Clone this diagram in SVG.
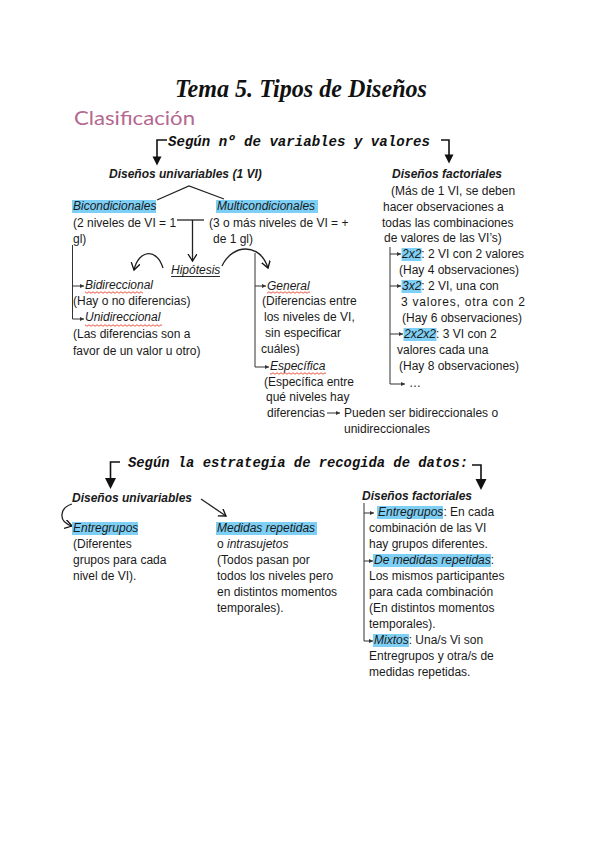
<svg xmlns="http://www.w3.org/2000/svg" width="600" height="848" viewBox="0 0 600 848">
<style>
.t{font-family:"Liberation Sans",Arial,sans-serif;font-size:12px;fill:#1a1a1a}
.i{font-style:italic}
.bi{font-weight:bold;font-style:italic}
.mono{font-family:"Liberation Mono","Courier New",monospace;font-weight:bold;font-style:italic;font-size:14px;fill:#111}
.hl{fill:#7ecff5}
.ln{fill:none;stroke:#222;stroke-width:1.3}
.br{fill:none;stroke:#111;stroke-width:1.6}
.head{fill:#111}
.thin{fill:none;stroke:#333;stroke-width:1}
.wave{fill:url(#wave)}
</style>
<defs>
<marker id="chev" markerUnits="userSpaceOnUse" markerWidth="10" markerHeight="10" refX="7" refY="4.5" orient="auto"><path d="M0,0 L7,4.5 L0,9" fill="none" stroke="#111" stroke-width="1.3"/></marker>
<marker id="sm" markerUnits="userSpaceOnUse" markerWidth="5" markerHeight="5" refX="4" refY="2" orient="auto"><path d="M0,0 L4,2 L0,4 z" fill="#333"/></marker>
<pattern id="wave" patternUnits="userSpaceOnUse" width="4" height="3"><path d="M0,1.5 Q1,0 2,1.5 T4,1.5" fill="none" stroke="#e8412c" stroke-width="0.9"/></pattern>
</defs>
<rect width="600" height="848" fill="#fff"/>

<g id="title">
<text x="175" y="97" font-family="'Liberation Serif','Times New Roman',serif" font-weight="bold" font-style="italic" font-size="25" textLength="252" lengthAdjust="spacingAndGlyphs" fill="#111">Tema 5. Tipos de Diseños</text>
<text x="74" y="125" font-family="Lato,'Open Sans',sans-serif" font-size="20" textLength="121" lengthAdjust="spacingAndGlyphs" fill="#b5688f">Clasificación</text>
</g>

<g id="connectors">
<path class="br" d="M167,140 H157 V158"/>
<polygon class="head" points="152.5,156.5 161.5,156.5 157,165.5"/>
<path class="br" d="M441,140 H449 V156"/>
<polygon class="head" points="444.5,154.5 453.5,154.5 449,163.5"/>
<path class="ln" d="M157,200 L189,186 L224,199"/>
<path class="ln" d="M177,220 H204"/>
<path class="ln" d="M192.5,220 V261" marker-end="url(#chev)"/>
<path class="ln" d="M163,268 C157,248 139,249 134,270" marker-end="url(#chev)"/>
<path class="ln" d="M222,266 C232,244 260,242 268,268" marker-end="url(#chev)"/>
<path class="thin" d="M72.5,245 V319 H84" marker-end="url(#sm)"/>
<path class="thin" d="M72.5,286 H84" marker-end="url(#sm)"/>
<path class="thin" d="M255,253 V367 H269" marker-end="url(#sm)"/>
<path class="thin" d="M255,286 H266" marker-end="url(#sm)"/>
<path class="thin" d="M390,247 V384 H405" marker-end="url(#sm)"/>
<path class="thin" d="M390,254 H401" marker-end="url(#sm)"/>
<path class="thin" d="M390,286 H401" marker-end="url(#sm)"/>
<path class="thin" d="M390,334 H403" marker-end="url(#sm)"/>
<path class="thin" d="M327,413 H340" marker-end="url(#sm)"/>
<path class="br" d="M120,462 H110.5 V480"/>
<polygon class="head" points="105,478 116,478 110.5,489"/>
<path class="br" d="M472,465 H481 V481"/>
<polygon class="head" points="475.5,479 486.5,479 481,490"/>
<path class="ln" d="M201,499 L226,516" marker-end="url(#chev)"/>
<path class="ln" d="M72,504 C59,508 58,522 72,526" marker-end="url(#chev)"/>
<path class="thin" d="M364,503 V641 H373" marker-end="url(#sm)"/>
<path class="thin" d="M364,513 H374" marker-end="url(#sm)"/>
<path class="thin" d="M364,561 H373" marker-end="url(#sm)"/>
</g>

<g id="heading1"><text class="mono" x="168" y="146" textLength="262" lengthAdjust="spacingAndGlyphs">Según nº de variables y valores</text></g>

<g id="univariables1">
<text class="t bi" x="109" y="178">Diseños univariables (1 VI)</text>
</g>

<g id="bicondicionales">
<rect class="hl" x="72" y="200" width="84" height="13"/>
<text class="t i" x="73" y="210">Bicondicionales</text>
<text class="t" x="73" y="227">(2 niveles de VI = 1</text>
<text class="t" x="73" y="243">gl)</text>
</g>

<g id="multicondicionales">
<rect class="hl" x="216" y="200" width="102" height="13"/>
<text class="t i" x="217" y="210">Multicondicionales</text>
<text class="t" x="209" y="227">(3 o más niveles de VI = +</text>
<text class="t" x="213" y="243">de 1 gl)</text>
</g>

<g id="hipotesis">
<text class="t i" x="171" y="274">Hipótesis</text>
<line x1="171" y1="276.5" x2="220" y2="276.5" stroke="#111" stroke-width="0.9"/>
</g>

<g id="bidireccional">
<text class="t i" x="85" y="289">Bidireccional</text>
<rect class="wave" x="85" y="291" width="58" height="3"/>
<text class="t" x="73" y="305">(Hay o no diferencias)</text>
</g>

<g id="unidireccional">
<text class="t i" x="85" y="321">Unidireccional</text>
<rect class="wave" x="85" y="324" width="77" height="3"/>
<text class="t" x="73" y="338">(Las diferencias son a</text>
<text class="t" x="73" y="355">favor de un valor u otro)</text>
</g>

<g id="general">
<text class="t i" x="267" y="290">General</text>
<rect class="wave" x="267" y="291" width="43" height="3"/>
<text class="t" x="262" y="305">(Diferencias  entre</text>
<text class="t" x="264" y="321">los niveles de VI,</text>
<text class="t" x="265" y="337"> sin especificar</text>
<text class="t" x="261" y="353">cuáles)</text>
</g>

<g id="especifica">
<text class="t i" x="270" y="370">Específica</text>
<rect class="wave" x="270" y="372" width="56" height="3"/>
<text class="t" x="264" y="386">(Específica entre</text>
<text class="t" x="266" y="401">qué niveles hay</text>
<text class="t" x="267" y="417">diferencias</text>
<text class="t" x="344" y="417">Pueden ser bidireccionales o</text>
<text class="t" x="344" y="433">unidireccionales</text>
</g>

<g id="factoriales1">
<text class="t bi" x="392" y="178">Diseños factoriales</text>
<text class="t" x="391" y="194.5">(Más de 1 VI, se deben</text>
<text class="t" x="383" y="210.5">hacer observaciones a</text>
<text class="t" x="382" y="226.5">todas las combinaciones</text>
<text class="t" x="384" y="242">de valores de las VI’s)</text>
</g>

<g id="f2x2">
<rect class="hl" x="401.5" y="248" width="20" height="13"/>
<text class="t" x="402" y="258"><tspan class="i">2x2</tspan>: 2 VI con 2 valores</text>
<text class="t" x="399" y="274">(Hay 4 observaciones)</text>
</g>

<g id="f3x2">
<rect class="hl" x="401.5" y="280" width="20" height="13"/>
<text class="t" x="402" y="290"><tspan class="i">3x2</tspan>: 2 VI, una con</text>
<text class="t" x="401" y="306" textLength="124" lengthAdjust="spacing">3  valores,  otra  con  2</text>
<text class="t" x="402" y="322">(Hay 6 observaciones)</text>
</g>

<g id="f2x2x2">
<rect class="hl" x="403.5" y="328" width="33" height="13"/>
<text class="t" x="404" y="338"><tspan class="i">2x2x2</tspan>: 3 VI con 2</text>
<text class="t" x="397" y="354">valores cada una</text>
<text class="t" x="399" y="370">(Hay 8 observaciones)</text>
</g>

<g id="fmore"><text class="t" x="409" y="387">…</text></g>

<g id="heading2"><text class="mono" x="128" y="467" textLength="340" lengthAdjust="spacingAndGlyphs">Según la estrategia de recogida de datos:</text></g>

<g id="univariables2"><text class="t bi" x="72" y="502">Diseños univariables</text></g>

<g id="entregrupos">
<rect class="hl" x="72" y="522" width="66" height="13"/>
<text class="t i" x="73" y="532">Entregrupos</text>
<text class="t" x="73" y="548">(Diferentes</text>
<text class="t" x="73" y="564">grupos para cada</text>
<text class="t" x="73" y="580">nivel de VI).</text>
</g>

<g id="medidas">
<rect class="hl" x="216" y="522" width="101" height="13"/>
<text class="t i" x="217" y="532">Medidas repetidas</text>
<text class="t" x="217" y="548">o <tspan class="i">intrasujetos</tspan></text>
<text class="t" x="217" y="564">(Todos pasan por</text>
<text class="t" x="217" y="580">todos los niveles pero</text>
<text class="t" x="217" y="596">en distintos momentos</text>
<text class="t" x="217" y="612">temporales).</text>
</g>

<g id="factoriales2"><text class="t bi" x="362" y="500">Diseños factoriales</text></g>

<g id="fentre">
<rect class="hl" x="377" y="506" width="66" height="13"/>
<text class="t" x="378" y="516"><tspan class="i">Entregrupos</tspan>: En cada</text>
<text class="t" x="369" y="532">combinación de las VI</text>
<text class="t" x="369" y="548">hay grupos diferentes.</text>
</g>

<g id="fmedidas">
<rect class="hl" x="373" y="554" width="118" height="13"/>
<text class="t" x="374" y="564"><tspan class="i">De medidas repetidas</tspan>:</text>
<text class="t" x="369" y="580">Los mismos participantes</text>
<text class="t" x="369" y="596">para cada combinación</text>
<text class="t" x="369" y="612">(En distintos momentos</text>
<text class="t" x="369" y="628">temporales).</text>
</g>

<g id="fmixtos">
<rect class="hl" x="373" y="634" width="36" height="13"/>
<text class="t" x="374" y="644"><tspan class="i">Mixtos</tspan>: Una/s Vi son</text>
<text class="t" x="369" y="660">Entregrupos y  otra/s de</text>
<text class="t" x="369" y="676">medidas repetidas.</text>
</g>
</svg>
